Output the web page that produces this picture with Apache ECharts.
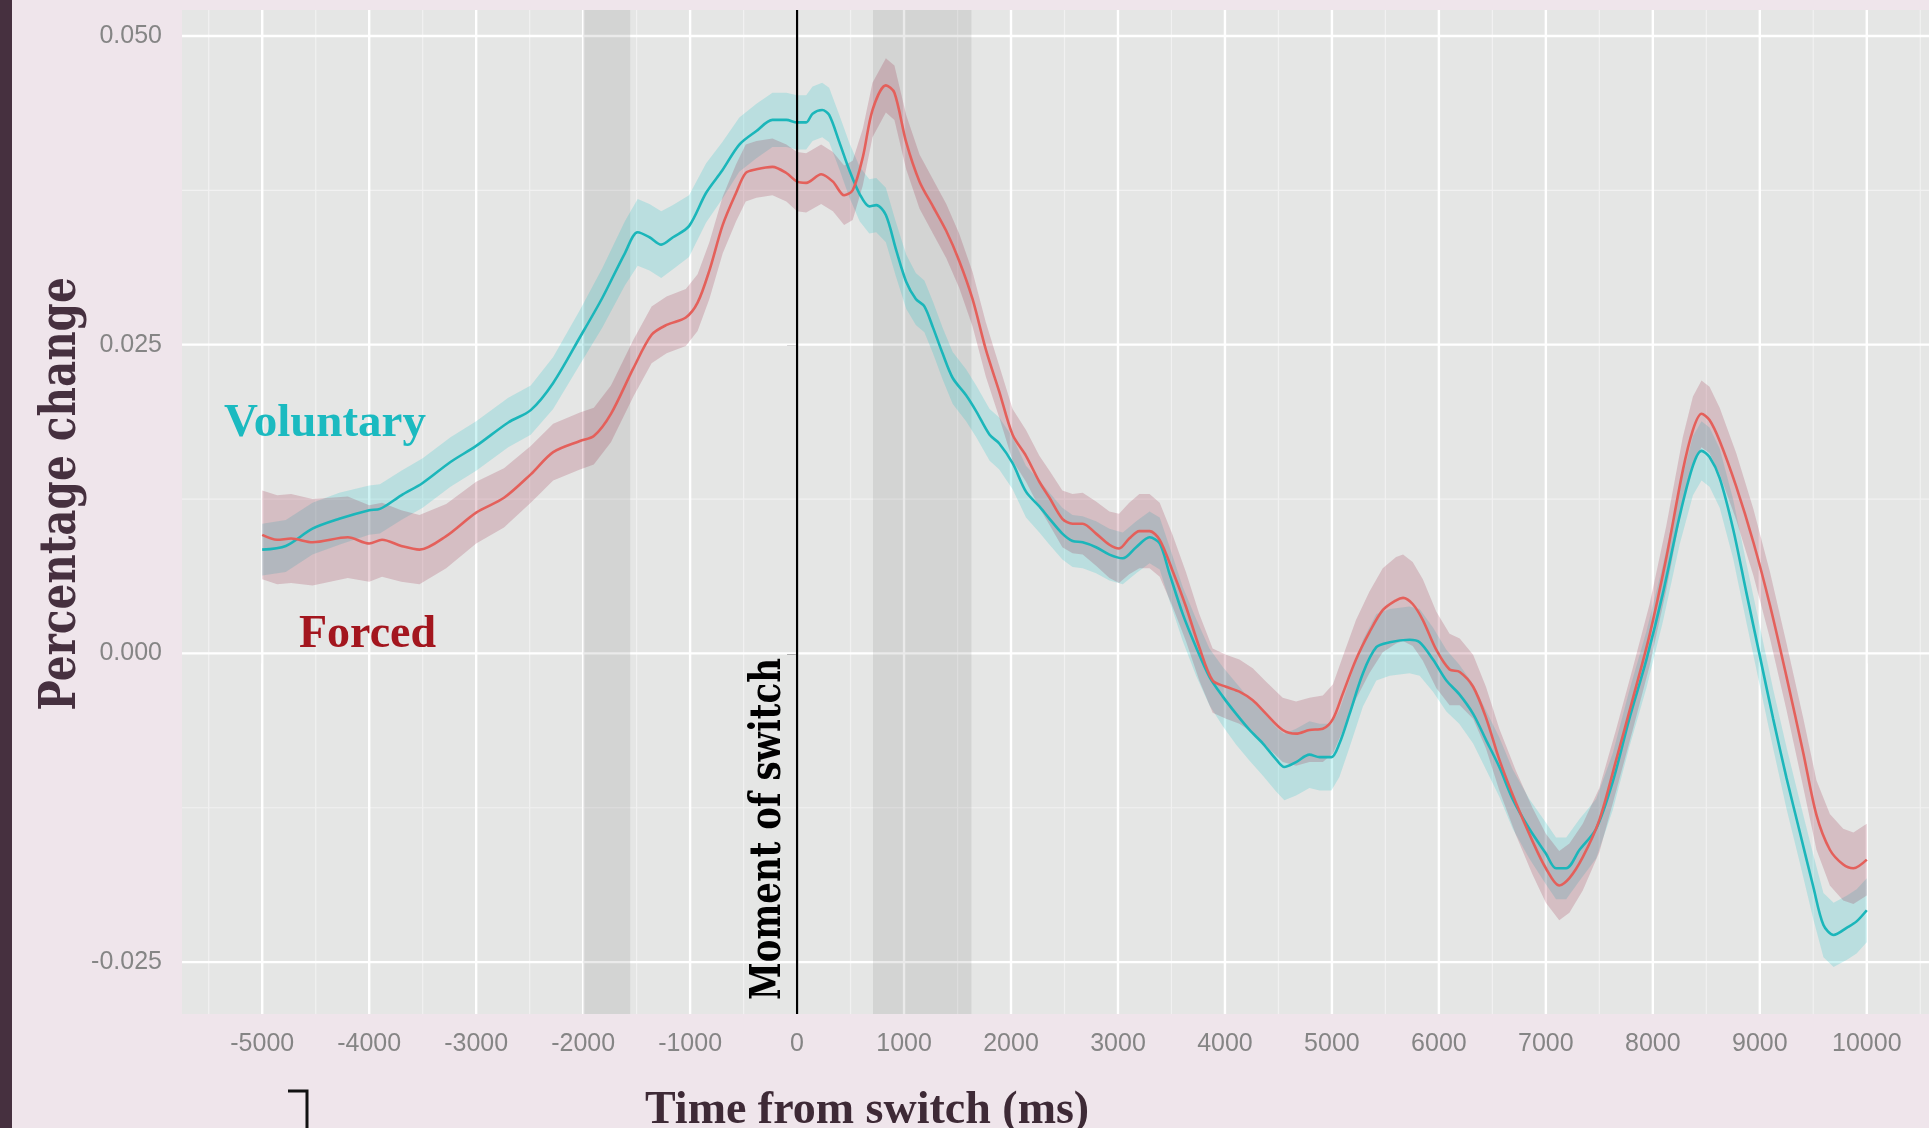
<!DOCTYPE html>
<html>
<head>
<meta charset="utf-8">
<style>
html,body{margin:0;padding:0;background:#EFE5EB;overflow:hidden;}
#chart{width:1929px;height:1128px;}
</style>
<script src="https://cdn.jsdelivr.net/npm/echarts@6/dist/echarts.min.js"></script>
</head>
<body>
<div id="chart"></div>
<script>
// ---------- data ----------
const xTicks = [-5000,-4000,-3000,-2000,-1000,0,1000,2000,3000,4000,5000,6000,7000,8000,9000,10000];
const xMinorGrid = [-5500,-4500,-3500,-2500,-1500,-500,500,1500,2500,3500,4500,5500,6500,7500,8500,9500,10500];
const yTicks = [-0.025,0,0.025,0.05];
const yMinorGrid = [-0.0125,0.0125,0.0375];
const shadedWindows = [[-2000,-1560],[710,1630]];
const switchMoment = [0];

const voluntaryTime = [-5000,-4780,-4530,-4280,-4000,-3900,-3700,-3500,-3240,-3000,
 -2700,-2490,-2280,-2030,-1820,-1610,-1490,-1380,-1270,-1160,
 -1010,-850,-700,-540,-380,-230,-100,0,85,145,
 235,300,395,490,585,675,740,830,925,1020,
 1110,1190,1270,1360,1455,1580,1675,1800,1890,2015,
 2140,2265,2360,2480,2575,2670,2795,2920,3045,3170,
 3295,3390,3480,3605,3730,3855,3980,4105,4230,4355,
 4480,4555,4665,4790,4885,4995,5070,5165,5290,5415,
 5540,5725,5820,5945,6070,6190,6320,6440,6565,6690,
 6845,7000,7095,7190,7315,7470,7625,7780,7940,8095,
 8250,8375,8455,8530,8625,8750,8875,9000,9125,9250,
 9375,9500,9595,9690,9815,9905,10000];
const voluntaryMean = [0.0084,0.0087,0.0101,0.0109,0.0116,0.0117,0.0128,0.0138,0.0155,0.0168,
 0.0187,0.0197,0.0219,0.0256,0.0288,0.0324,0.0341,0.0337,0.0331,0.0337,
 0.0346,0.0373,0.0391,0.0412,0.0423,0.0432,0.0432,0.0430,0.0430,0.0437,
 0.0440,0.0436,0.0414,0.0391,0.0372,0.0362,0.0363,0.0355,0.0327,0.0301,
 0.0287,0.0281,0.0264,0.0243,0.0223,0.0209,0.0196,0.0177,0.0170,0.0154,
 0.0131,0.0119,0.0109,0.0097,0.0091,0.0090,0.0086,0.0080,0.0077,0.0086,
 0.0094,0.0089,0.0065,0.0032,0.0005,-0.0019,-0.0035,-0.0049,-0.0062,-0.0073,
 -0.0086,-0.0092,-0.0088,-0.0082,-0.0084,-0.0084,-0.0073,-0.0049,-0.0016,0.0005,
 0.0009,0.0011,0.0009,-0.0005,-0.0022,-0.0033,-0.0049,-0.0070,-0.0092,-0.0118,
 -0.0142,-0.0162,-0.0174,-0.0174,-0.0159,-0.0142,-0.0104,-0.0053,-0.0005,0.0049,
 0.0111,0.0152,0.0164,0.0159,0.0142,0.0101,0.0049,-0.0002,-0.0053,-0.0101,
 -0.0145,-0.0189,-0.0220,-0.0228,-0.0222,-0.0217,-0.0208];
const voluntaryHalfCI = [0.0021,0.0021,0.0021,0.0021,0.0020,0.0020,0.0020,0.0020,0.0020,0.0020,
 0.0020,0.0020,0.0021,0.0022,0.0024,0.0026,0.0027,0.0027,0.0027,0.0026,
 0.0025,0.0024,0.0023,0.0022,0.0022,0.0022,0.0022,0.0022,0.0022,0.0022,
 0.0022,0.0022,0.0022,0.0022,0.0022,0.0022,0.0022,0.0022,0.0022,0.0022,
 0.0021,0.0021,0.0021,0.0021,0.0021,0.0021,0.0021,0.0021,0.0021,0.0021,
 0.0021,0.0021,0.0021,0.0021,0.0021,0.0021,0.0021,0.0021,0.0021,0.0021,
 0.0021,0.0021,0.0022,0.0022,0.0023,0.0023,0.0024,0.0025,0.0025,0.0026,
 0.0026,0.0027,0.0027,0.0027,0.0027,0.0027,0.0027,0.0027,0.0027,0.0027,
 0.0027,0.0027,0.0027,0.0026,0.0025,0.0024,0.0024,0.0024,0.0024,0.0024,
 0.0024,0.0025,0.0025,0.0025,0.0025,0.0024,0.0023,0.0023,0.0023,0.0023,
 0.0023,0.0024,0.0024,0.0024,0.0024,0.0024,0.0024,0.0024,0.0024,0.0025,
 0.0025,0.0026,0.0026,0.0026,0.0026,0.0026,0.0026];

const forcedTime = [-5000,-4860,-4730,-4530,-4200,-4000,-3880,-3700,-3530,-3280,
 -3000,-2740,-2490,-2280,-2030,-1900,-1740,-1530,-1360,-1220,
 -1040,-930,-820,-695,-570,-480,-380,-230,-100,0,
 85,225,335,440,520,615,705,830,910,1020,
 1145,1270,1395,1515,1640,1765,1890,2015,2140,2265,
 2360,2480,2575,2670,2795,2920,3010,3105,3200,3295,
 3390,3510,3635,3760,3885,4010,4135,4260,4385,4540,
 4665,4790,4915,5010,5100,5225,5350,5475,5600,5665,
 5755,5850,5975,6100,6195,6320,6440,6565,6720,6875,
 7000,7125,7220,7345,7500,7655,7815,7970,8125,8280,
 8375,8455,8530,8625,8780,8940,9095,9250,9405,9530,
 9655,9780,9875,10000];
const forcedMean = [0.0096,0.0092,0.0093,0.0090,0.0094,0.0089,0.0092,0.0087,0.0084,0.0095,
 0.0114,0.0126,0.0145,0.0163,0.0172,0.0176,0.0194,0.0231,0.0258,0.0266,
 0.0272,0.0284,0.0310,0.0347,0.0373,0.0389,0.0392,0.0394,0.0389,0.0382,
 0.0381,0.0388,0.0382,0.0371,0.0375,0.0402,0.0440,0.0460,0.0454,0.0414,
 0.0382,0.0362,0.0342,0.0318,0.0287,0.0246,0.0212,0.0177,0.0160,0.0139,
 0.0126,0.0109,0.0105,0.0105,0.0097,0.0088,0.0085,0.0093,0.0099,0.0099,
 0.0092,0.0067,0.0038,0.0005,-0.0022,-0.0027,-0.0031,-0.0038,-0.0049,-0.0062,
 -0.0065,-0.0062,-0.0061,-0.0053,-0.0033,-0.0005,0.0017,0.0035,0.0043,0.0045,
 0.0040,0.0027,0.0003,-0.0013,-0.0015,-0.0027,-0.0052,-0.0086,-0.0121,-0.0152,
 -0.0174,-0.0188,-0.0182,-0.0165,-0.0135,-0.0087,-0.0036,0.0015,0.0077,0.0148,
 0.0181,0.0194,0.0189,0.0172,0.0135,0.0090,0.0039,-0.0019,-0.0080,-0.0131,
 -0.0159,-0.0171,-0.0174,-0.0167];
const forcedHalfCI = [0.0036,0.0036,0.0036,0.0035,0.0033,0.0031,0.0030,0.0029,0.0028,0.0026,
 0.0025,0.0024,0.0023,0.0023,0.0023,0.0023,0.0023,0.0023,0.0023,0.0023,
 0.0023,0.0023,0.0023,0.0023,0.0023,0.0023,0.0023,0.0023,0.0023,0.0024,
 0.0024,0.0024,0.0024,0.0024,0.0024,0.0023,0.0022,0.0022,0.0022,0.0022,
 0.0022,0.0022,0.0022,0.0022,0.0022,0.0022,0.0021,0.0021,0.0021,0.0021,
 0.0022,0.0023,0.0024,0.0025,0.0026,0.0027,0.0028,0.0029,0.0030,0.0030,
 0.0030,0.0029,0.0028,0.0027,0.0026,0.0026,0.0026,0.0026,0.0026,0.0026,
 0.0026,0.0026,0.0027,0.0028,0.0030,0.0032,0.0033,0.0034,0.0035,0.0035,
 0.0034,0.0033,0.0031,0.0029,0.0027,0.0026,0.0025,0.0025,0.0026,0.0027,
 0.0028,0.0028,0.0028,0.0027,0.0026,0.0025,0.0025,0.0025,0.0026,0.0027,
 0.0027,0.0027,0.0027,0.0027,0.0027,0.0027,0.0027,0.0027,0.0028,0.0028,
 0.0029,0.0029,0.0029,0.0029];

// ---------- chart ----------
const X_MIN = -5750, X_MAX = 10750, Y_MIN = -0.0292, Y_MAX = 0.0521;
const chart = echarts.init(document.getElementById('chart'), null, {renderer: 'canvas'});

function vLineSeries(values, color, width, z) {
  return {
    type: 'custom', z: z, silent: true, clip: true,
    data: values.map(v => [v, 0]),
    renderItem: (params, api) => {
      const p0 = api.coord([api.value(0), Y_MIN]);
      const p1 = api.coord([api.value(0), Y_MAX]);
      return {type: 'line', shape: {x1: p0[0], y1: p0[1], x2: p1[0], y2: p1[1]},
              style: {stroke: color, lineWidth: width}};
    }
  };
}
function hLineSeries(values, color, width, z) {
  return {
    type: 'custom', z: z, silent: true, clip: true,
    data: values.map(v => [0, v]),
    renderItem: (params, api) => {
      const p0 = api.coord([X_MIN, api.value(1)]);
      const p1 = api.coord([X_MAX, api.value(1)]);
      return {type: 'line', shape: {x1: p0[0], y1: p0[1], x2: p1[0], y2: p1[1]},
              style: {stroke: color, lineWidth: width}};
    }
  };
}
function ribbonSeries(time, mean, half, fill, z) {
  return {
    type: 'custom', z: z, silent: true, clip: true,
    data: time.map((t, i) => [t, mean[i]]),
    renderItem: (params, api) => {
      if (params.dataIndex !== 0) return null;
      const pts = [];
      for (let i = 0; i < time.length; i++) pts.push(api.coord([time[i], mean[i] + half[i]]));
      for (let i = time.length - 1; i >= 0; i--) pts.push(api.coord([time[i], mean[i] - half[i]]));
      return {type: 'polygon', shape: {points: pts}, style: {fill: fill}};
    }
  };
}
function lineSeries(name, time, mean, color) {
  return {
    name: name, type: 'line', z: 4, silent: true,
    data: time.map((t, i) => [t, mean[i]]),
    showSymbol: false, smooth: 0.3,
    lineStyle: {color: color, width: 2.6},
    itemStyle: {color: color}
  };
}

const option = {
  animation: false,
  backgroundColor: '#EFE5EB',
  grid: {left: 182, top: 10, width: 1765, height: 1004, show: true,
         backgroundColor: '#E5E6E5', borderWidth: 0, containLabel: false, outerBoundsMode: 'none'},
  xAxis: {
    type: 'value', min: X_MIN, max: X_MAX,
    axisLine: {show: false},
    splitLine: {show: false},
    axisTick: {show: true, customValues: xTicks, length: 10, lineStyle: {color: '#5E5E5E', width: 2}},
    axisLabel: {customValues: xTicks, color: '#858585', fontSize: 25, fontFamily: 'Liberation Sans', margin: 18,
                formatter: v => String(v)}
  },
  yAxis: {
    type: 'value', min: Y_MIN, max: Y_MAX,
    axisLine: {show: false},
    splitLine: {show: false},
    axisTick: {show: true, customValues: yTicks, length: 10, lineStyle: {color: '#5E5E5E', width: 2}},
    axisLabel: {customValues: yTicks, color: '#858585', fontSize: 25, fontFamily: 'Liberation Sans', margin: 20,
                formatter: v => v.toFixed(3)}
  },
  series: [
    vLineSeries(xMinorGrid, '#F1F1F1', 1.2, 1),
    hLineSeries(yMinorGrid, '#F1F1F1', 1.2, 1),
    vLineSeries(xTicks, '#FFFFFF', 2.4, 1),
    hLineSeries(yTicks, '#FFFFFF', 2.4, 1),
    {
      type: 'custom', z: 2, silent: true, clip: true,
      data: shadedWindows,
      renderItem: (params, api) => {
        const a = api.coord([api.value(0), Y_MAX]);
        const b = api.coord([api.value(1), Y_MIN]);
        return {type: 'rect', shape: {x: a[0], y: a[1], width: b[0] - a[0], height: b[1] - a[1]},
                style: {fill: 'rgba(90,90,90,0.13)'}};
      }
    },
    ribbonSeries(voluntaryTime, voluntaryMean, voluntaryHalfCI, 'rgba(0,191,196,0.19)', 3),
    ribbonSeries(forcedTime, forcedMean, forcedHalfCI, 'rgba(150,30,60,0.2)', 3),
    lineSeries('Voluntary', voluntaryTime, voluntaryMean, '#1BB6BA'),
    lineSeries('Forced', forcedTime, forcedMean, '#E4605B'),
    vLineSeries(switchMoment, '#000000', 2.2, 5)
  ],
  graphic: [
    {type: 'rect', left: 0, top: 0, shape: {x: 0, y: 0, width: 12, height: 1128}, style: {fill: '#46303F'}, z: 10},
    {type: 'text', x: 62, y: 494, rotation: Math.PI / 2, scaleX: 0.81, z: 10,
     style: {text: 'Percentage change', font: 'bold 50px "DejaVu Serif"', fill: '#46303F',
             textAlign: 'center', textVerticalAlign: 'middle'}},
    {type: 'text', x: 769, y: 829, rotation: Math.PI / 2, scaleX: 0.81, z: 10,
     style: {text: 'Moment of switch', font: 'bold 42px "DejaVu Serif"', fill: '#000000',
             textAlign: 'center', textVerticalAlign: 'middle'}},
    {type: 'text', x: 224, y: 424, z: 10,
     style: {text: 'Voluntary', font: 'bold 47px "Liberation Serif"', fill: '#1BBAC0',
             textAlign: 'left', textVerticalAlign: 'middle'}},
    {type: 'text', x: 299, y: 635, z: 10,
     style: {text: 'Forced', font: 'bold 46px "Liberation Serif"', fill: '#A3161E',
             textAlign: 'left', textVerticalAlign: 'middle'}},
    {type: 'text', x: 645, y: 1111, z: 10,
     style: {text: 'Time from switch (ms)', font: 'bold 46px "Liberation Serif"', fill: '#3E2A36',
             textAlign: 'left', textVerticalAlign: 'middle'}},
    {type: 'polyline', z: 10, shape: {points: [[288, 1091], [307, 1091], [307, 1128]]},
     style: {stroke: '#111111', lineWidth: 3, fill: null}}
  ]
};
chart.setOption(option);
</script>
</body>
</html>
